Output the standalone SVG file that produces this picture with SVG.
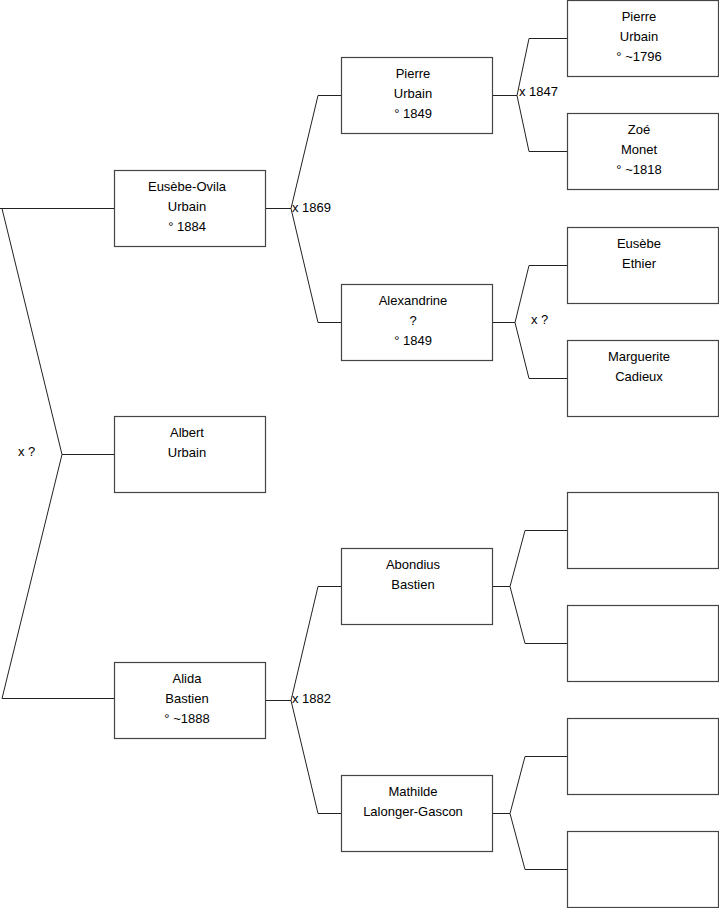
<svg xmlns="http://www.w3.org/2000/svg" width="719" height="908" viewBox="0 0 719 908">
<style>
.box{fill:#fff;stroke:#444;stroke-width:1.2}
.ln{fill:none;stroke:#222;stroke-width:1}
text{font-family:"Liberation Sans",Arial,sans-serif;font-size:13px;fill:#000}
.c{text-anchor:middle}
</style>
<g id="connectors">
<path class="ln" d="M0,208.5H114 M2,208.5L62,454.5L2,698.5H114 M62,454.5H114"/>
<path class="ln" d="M265,208.5H291 M318,95.5L291,208.5L318,322.5 M318,95.5H341 M318,322.5H341"/>
<path class="ln" d="M265,700.5H291 M318,586.5L291,700.5L318,813.5 M318,586.5H341 M318,813.5H341"/>
<path class="ln" d="M492,95.5H517 M529,38.5L517,95.5L529,151.5 M529,38.5H567 M529,151.5H567"/>
<path class="ln" d="M492,322.5H515 M529,265.5L515,322.5L529,378.5 M529,265.5H567 M529,378.5H567"/>
<path class="ln" d="M492,586.5H510 M525,530.5L510,586.5L525,643.5 M525,530.5H567 M525,643.5H567"/>
<path class="ln" d="M492,813.5H510 M525,756.5L510,813.5L525,869.5 M525,756.5H567 M525,869.5H567"/>
<text x="18" y="456">x ?</text>
<text x="292" y="212">x 1869</text>
<text x="292" y="703">x 1882</text>
<text x="519" y="96">x 1847</text>
<text x="531" y="324">x ?</text>
</g>
<g id="n1"><rect class="box" x="114.5" y="170.5" width="151" height="76"/><text class="c" x="187" y="191">Eusèbe-Ovila</text><text class="c" x="187" y="211">Urbain</text><text class="c" x="187" y="231">° 1884</text></g>
<g id="n2"><rect class="box" x="114.5" y="416.5" width="151" height="76"/><text class="c" x="187" y="437">Albert</text><text class="c" x="187" y="457">Urbain</text></g>
<g id="n3"><rect class="box" x="114.5" y="662.5" width="151" height="76"/><text class="c" x="187" y="683">Alida</text><text class="c" x="187" y="703">Bastien</text><text class="c" x="187" y="723">° ~1888</text></g>
<g id="n4"><rect class="box" x="341.5" y="57.5" width="151" height="76"/><text class="c" x="413" y="78">Pierre</text><text class="c" x="413" y="98">Urbain</text><text class="c" x="413" y="118">° 1849</text></g>
<g id="n5"><rect class="box" x="341.5" y="284.5" width="151" height="76"/><text class="c" x="413" y="305">Alexandrine</text><text class="c" x="413" y="325">?</text><text class="c" x="413" y="345">° 1849</text></g>
<g id="n6"><rect class="box" x="341.5" y="548.5" width="151" height="76"/><text class="c" x="413" y="569">Abondius</text><text class="c" x="413" y="589">Bastien</text></g>
<g id="n7"><rect class="box" x="341.5" y="775.5" width="151" height="76"/><text class="c" x="413" y="796">Mathilde</text><text class="c" x="413" y="816">Lalonger-Gascon</text></g>
<g id="n8"><rect class="box" x="567.5" y="0.5" width="151" height="76"/><text class="c" x="639" y="21">Pierre</text><text class="c" x="639" y="41">Urbain</text><text class="c" x="639" y="61">° ~1796</text></g>
<g id="n9"><rect class="box" x="567.5" y="113.5" width="151" height="76"/><text class="c" x="639" y="134">Zoé</text><text class="c" x="639" y="154">Monet</text><text class="c" x="639" y="174">° ~1818</text></g>
<g id="n10"><rect class="box" x="567.5" y="227.5" width="151" height="76"/><text class="c" x="639" y="248">Eusèbe</text><text class="c" x="639" y="268">Ethier</text></g>
<g id="n11"><rect class="box" x="567.5" y="340.5" width="151" height="76"/><text class="c" x="639" y="361">Marguerite</text><text class="c" x="639" y="381">Cadieux</text></g>
<g id="n12"><rect class="box" x="567.5" y="492.5" width="151" height="76"/></g>
<g id="n13"><rect class="box" x="567.5" y="605.5" width="151" height="76"/></g>
<g id="n14"><rect class="box" x="567.5" y="718.5" width="151" height="76"/></g>
<g id="n15"><rect class="box" x="567.5" y="831.5" width="151" height="76"/></g>
</svg>
